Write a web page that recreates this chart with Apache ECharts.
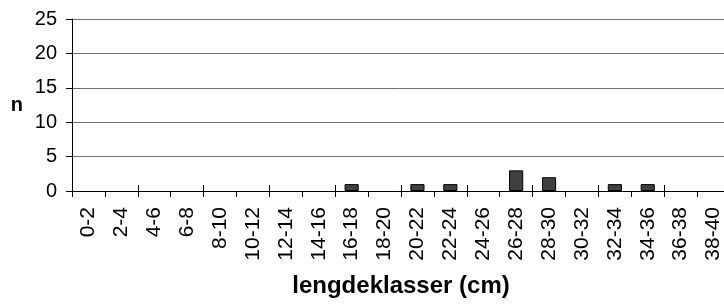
<!DOCTYPE html>
<html><head><meta charset="utf-8">
<script src="https://cdn.jsdelivr.net/npm/echarts@6/dist/echarts.min.js"></script>
<style>html,body{margin:0;padding:0;background:#fff}#c{width:724px;height:304px}</style>
</head><body><div id="c"></div>
<script>
var categories = ["0-2","2-4","4-6","6-8","8-10","10-12","12-14","14-16","16-18","18-20","20-22","22-24","24-26","26-28","28-30","30-32","32-34","34-36","36-38","38-40"];
var counts = [0,0,0,0,0,0,0,0,1,0,1,1,0,3,2,0,1,1,0,0];
var yTicks = [0,5,10,15,20,25];
var xTitle = "lengdeklasser (cm)";
var yTitle = "n";

var chart = echarts.init(document.getElementById('c'));
var font = '"Liberation Sans", Arial, sans-serif';
chart.setOption({
  animation: false,
  grid: {left: 72, top: 19, width: 658, height: 172, containLabel: false, outerBoundsMode: 'none'},
  xAxis: [{
    type: 'category', data: categories, position: 'bottom',
    axisLine: {lineStyle: {color: '#000', width: 1}},
    axisTick: {show: true, alignWithLabel: false, length: 6, lineStyle: {color: '#000'}},
    axisLabel: {rotate: 90, margin: 16, fontSize: 21, color: '#000', fontFamily: font},
    name: xTitle, nameLocation: 'middle', nameGap: 83,
    nameTextStyle: {fontSize: 24, fontWeight: 'bold', color: '#000', fontFamily: font}
  }, {
    type: 'category', data: categories, position: 'bottom',
    axisLine: {show: false},
    axisTick: {show: true, inside: true, length: 6, lineStyle: {color: '#000'}},
    axisLabel: {show: false}
  }],
  yAxis: {
    type: 'value', min: yTicks[0], max: yTicks[yTicks.length-1], interval: 5,
    axisLine: {show: true, lineStyle: {color: '#000'}},
    axisTick: {show: true, length: 6, lineStyle: {color: '#000'}},
    axisLabel: {fontSize: 20, color: '#000', fontFamily: font, margin: 15},
    splitLine: {lineStyle: {color: '#707070', width: 1}},
    name: yTitle, nameLocation: 'middle', nameRotate: 0, nameGap: 49,
    nameTextStyle: {fontSize: 20, fontWeight: 'bold', color: '#000', fontFamily: font}
  },
  series: [{
    type: 'bar', data: counts.map(function (v) { return v === 0 ? null : v; }),
    barWidth: '43%', xAxisIndex: 0,
    itemStyle: {color: '#404040', borderColor: '#000', borderWidth: 1}
  }]
});
</script></body></html>
